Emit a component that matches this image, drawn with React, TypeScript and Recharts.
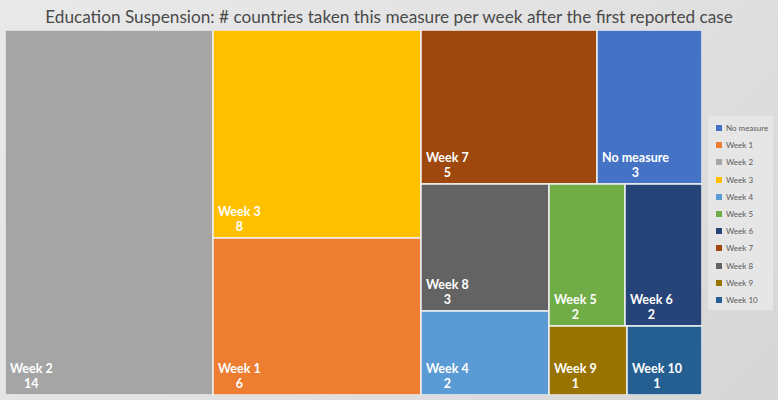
import React from "react";
import { Treemap } from "recharts";

const CATEGORIES = ["Week 2", "Week 3", "Week 1", "Week 7", "No measure", "Week 8", "Week 4", "Week 5", "Week 6", "Week 9", "Week 10"];
const COUNTS = [14, 8, 6, 5, 3, 3, 2, 2, 2, 1, 1];

const LEGEND_ORDER = ["No measure", "Week 1", "Week 2", "Week 3", "Week 4", "Week 5", "Week 6", "Week 7", "Week 8", "Week 9", "Week 10"];
const LEGEND_COLORS = ["#4472C4", "#ED7D31", "#A5A5A5", "#FFC000", "#5B9BD5", "#70AD47", "#264478", "#9E480E", "#636363", "#997300", "#255E91"];

const TITLE = "Education Suspension: # countries taken this measure per week after the first reported case";

const colorOf = (name: string) => LEGEND_COLORS[LEGEND_ORDER.indexOf(name)] || "#999";

const data = CATEGORIES.map((name, i) => ({ name, value: COUNTS[i] }));

const LABEL_FONT = "bold 12.5px Lato";
let ctx: CanvasRenderingContext2D | null = null;
const textWidth = (s: string) => {
  if (!ctx) ctx = document.createElement("canvas").getContext("2d");
  if (!ctx) return s.length * 6.5;
  ctx.font = LABEL_FONT;
  return ctx.measureText(s).width;
};

const Cell = (props: any) => {
  const { x, y, width, height, name, value, depth } = props;
  if (depth !== 1) return <g />;
  const bottom = y + height;
  const tx = x + 5;
  const w = textWidth(name);
  return (
    <g>
      <rect x={x} y={y} width={width} height={height} fill={colorOf(name)} stroke="#f0f0f0" strokeWidth={1.5} />
      <text x={tx} y={bottom - 22} fill="#fff" fontFamily="Lato" fontWeight="bold" fontSize={12.5}>
        {name}
      </text>
      <text x={tx + w / 2} y={bottom - 7} fill="#fff" fontFamily="Lato" fontWeight="bold" fontSize={12.5} textAnchor="middle">
        {value}
      </text>
    </g>
  );
};

export default function App() {
  return (
    <div
      style={{
        position: "absolute",
        left: 0,
        top: 0,
        width: 778,
        height: 400,
        background: "linear-gradient(135deg, #e9e9e9 0%, #e2e2e2 50%, #d6d6d6 100%)",
        fontFamily: "Lato, sans-serif",
        overflow: "hidden",
      }}
    >
      <div
        style={{
          position: "absolute",
          left: 0,
          top: 6,
          width: 778,
          textAlign: "center",
          fontSize: 17.2,
          color: "#4a4a4a",
          lineHeight: "22px",
        }}
      >
        {TITLE}
      </div>
      <div style={{ position: "absolute", left: 5, top: 30 }}>
        <Treemap
          width={697}
          height={365}
          data={data}
          dataKey="value"
          nameKey="name"
          aspectRatio={1}
          isAnimationActive={false}
          content={<Cell />}
        />
      </div>
      <div
        style={{
          position: "absolute",
          left: 708,
          top: 116,
          width: 65,
          height: 194,
          background: "#e6e6e6",
        }}
      >
        {LEGEND_ORDER.map((name, i) => (
          <div
            key={name}
            style={{
              position: "absolute",
              left: 8,
              top: 7 + i * 17.2,
              display: "flex",
              alignItems: "center",
              fontSize: 8,
              color: "#595959",
              whiteSpace: "nowrap",
            }}
          >
            <span style={{ display: "inline-block", width: 6, height: 6, background: LEGEND_COLORS[i], marginRight: 4 }} />
            {name}
          </div>
        ))}
      </div>
    </div>
  );
}
